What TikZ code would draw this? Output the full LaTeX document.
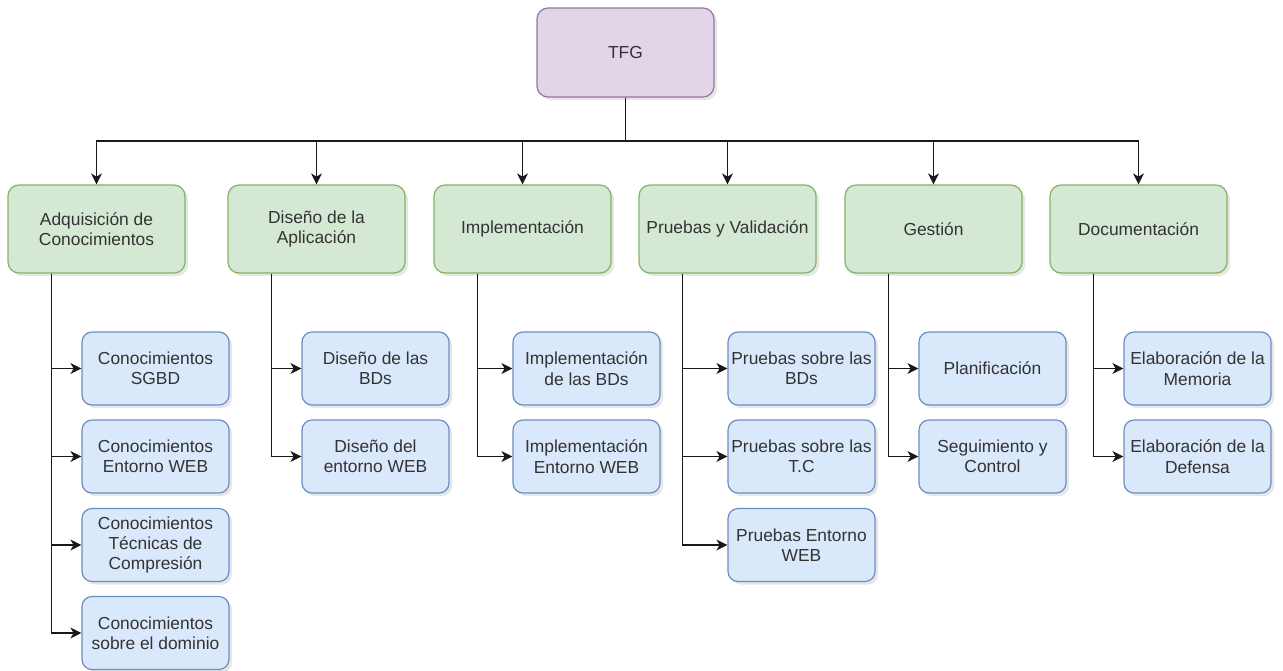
\documentclass[tikz,border=0pt]{standalone}
\usepackage{fontspec}
\setmainfont{Liberation Sans}
\usepackage{tikz}
\usetikzlibrary{arrows.meta,shadows}

\definecolor{rootfill}{HTML}{E1D5E7}
\definecolor{rootline}{HTML}{9673A6}
\definecolor{phasefill}{HTML}{D5E8D4}
\definecolor{phaseline}{HTML}{82B366}
\definecolor{taskfill}{HTML}{DAE8FC}
\definecolor{taskline}{HTML}{6C8EBF}
\definecolor{txt}{HTML}{333333}

\begin{document}
\begin{tikzpicture}[
    x=0.5pt,y=-0.5pt,
    font=\fontsize{8.7}{10.2}\selectfont,
    box/.style={rounded corners=5.5pt,align=center,text=txt,line width=0.6pt,
      inner sep=1pt,
      drop shadow={opacity=0.2,shadow xshift=1.5pt,shadow yshift=-1.5pt}},
    root/.style={box,draw=rootline,fill=rootfill,minimum width=88.5pt,minimum height=44.5pt},
    phase/.style={box,draw=phaseline,fill=phasefill,minimum width=88.5pt,minimum height=44pt},
    task/.style={box,draw=taskline,fill=taskfill,minimum width=73.5pt,minimum height=36.5pt,
      rounded corners=5pt},
    link/.style={line width=0.55pt,draw=black!90,-{Stealth[length=5.5pt,width=5.5pt,inset=1.6pt]}},
    >=Stealth]
  \useasboundingbox (0,0) rectangle (1283,670);

  \node[root] (tfg) at (625.5,52.5) {TFG};

  \node[phase] (adq) at (96.5,229) {Adquisición de\\Conocimientos};
  \node[phase] (dis) at (316.5,229) {Diseño de la\\Aplicación};
  \node[phase] (imp) at (522.5,229) {Implementación};
  \node[phase] (pru) at (727.5,229) {Pruebas y Validación};
  \node[phase] (ges) at (933.5,229) {Gestión};
  \node[phase] (doc) at (1138.5,229) {Documentación};

  % tareas
  \node[task] (adq1) at (155.5,368.5) {Conocimientos\\SGBD};
  \node[task] (adq2) at (155.5,456.5) {Conocimientos\\Entorno WEB};
  \node[task] (adq3) at (155.5,545) {Conocimientos\\Técnicas de\\Compresión};
  \node[task] (adq4) at (155.5,633) {Conocimientos\\sobre el dominio};

  \node[task] (dis1) at (375.5,368.5) {Diseño de las\\BDs};
  \node[task] (dis2) at (375.5,456.5) {Diseño del\\entorno WEB};

  \node[task] (imp1) at (586.5,368.5) {Implementación\\de las BDs};
  \node[task] (imp2) at (586.5,456.5) {Implementación\\Entorno WEB};

  \node[task] (pru1) at (801.5,368.5) {Pruebas sobre las\\BDs};
  \node[task] (pru2) at (801.5,456.5) {Pruebas sobre las\\T.C};
  \node[task] (pru3) at (801.5,545) {Pruebas Entorno\\WEB};

  \node[task] (ges1) at (992.5,368.5) {Planificación};
  \node[task] (ges2) at (992.5,456.5) {Seguimiento y\\Control};

  \node[task] (doc1) at (1197.5,368.5) {Elaboración de la\\Memoria};
  \node[task] (doc2) at (1197.5,456.5) {Elaboración de la\\Defensa};

  % bus
  \coordinate (bus) at (625.5,141);
  \foreach \p in {adq,dis,imp,pru,ges,doc}
    \draw[link] (tfg.south) -- (tfg.south |- bus) -| (\p.north);

  \foreach \p/\t in {adq/adq1,adq/adq2,adq/adq3,adq/adq4,
                     dis/dis1,dis/dis2,imp/imp1,imp/imp2,
                     pru/pru1,pru/pru2,pru/pru3,ges/ges1,ges/ges2,
                     doc/doc1,doc/doc2}
    \draw[link] ([xshift=22pt]\p.south west) |- (\t.west);
\end{tikzpicture}
\end{document}
